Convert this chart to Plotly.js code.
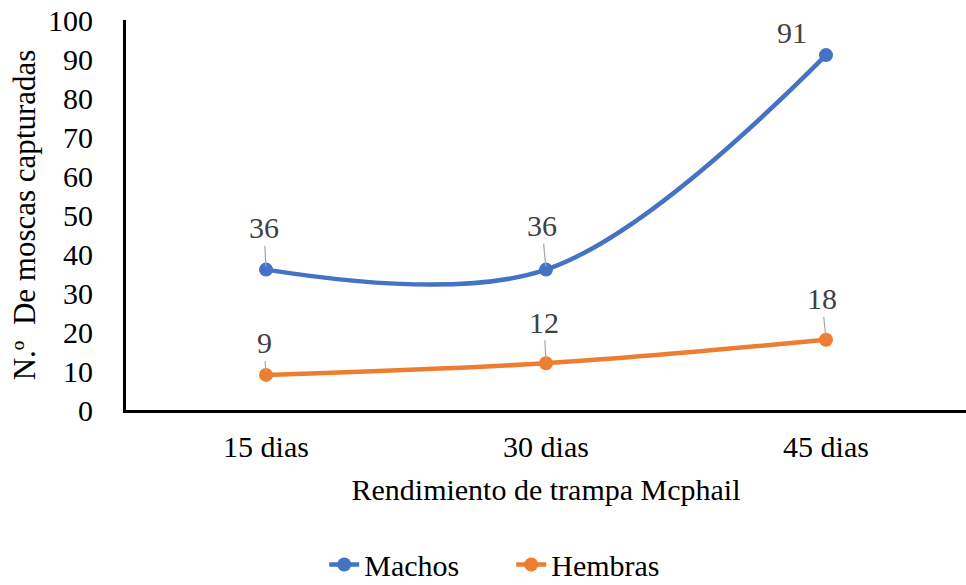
<!DOCTYPE html>
<html>
<head>
<meta charset="utf-8">
<script src="https://cdn.plot.ly/plotly-3.0.1.min.js"></script>
<style>
  html, body { margin: 0; padding: 0; background: #fff; }
  #chart { width: 966px; height: 585px; }
</style>
</head>
<body>
<div id="chart"></div>
<script>
// Trap catches per collection interval
const categories = ['15 dias', '30 dias', '45 dias'];
const machos = [36, 36, 91];
const hembras = [9, 12, 18];
const yTicks = [0, 10, 20, 30, 40, 50, 60, 70, 80, 90, 100];

// Label offsets (px) from each marker: [dx, dy, draw leader line]
const machosLabelOffset = [[-2, -42, true], [-4, -44, true], [-34, -23, false]];
const hembrasLabelOffset = [[-2, -32, true], [-2, -41, true], [-4, -41, true]];

const FONT = 'Liberation Serif, Times New Roman, serif';
const SIZE = 30;
const BLUE = '#4472C4';
const ORANGE = '#ED7D31';

function series(name, values, color) {
  return {
    type: 'scatter',
    mode: 'lines+markers',
    name: name,
    x: categories,
    y: values,
    line: { color: color, width: 4.5, shape: 'spline', smoothing: 1 },
    marker: { color: color, size: 14 },
    hoverinfo: 'x+y'
  };
}

// Value labels with short gray leader lines pointing at each marker
function labels(values, offsets) {
  return values.map((v, i) => {
    const [dx, dy, leader] = offsets[i];
    const base = {
      x: categories[i],
      y: v,
      text: String(v),
      font: { family: FONT, size: SIZE, color: '#404040' }
    };
    if (leader) {
      return Object.assign(base, {
        showarrow: true, arrowhead: 0, arrowwidth: 1.2,
        arrowcolor: '#A6A6A6', standoff: 3, ax: dx, ay: dy
      });
    }
    return Object.assign(base, { showarrow: false, xshift: dx, yshift: -dy });
  });
}

const layout = {
  width: 966,
  height: 585,
  margin: { l: 126, r: 0, t: 20, b: 175, autoexpand: false },
  paper_bgcolor: '#fff',
  plot_bgcolor: '#fff',
  font: { family: FONT, size: SIZE, color: '#000' },
  showlegend: true,
  legend: {
    orientation: 'h',
    x: 0.236, xanchor: 'left',
    y: -0.396, yanchor: 'middle',
    font: { family: FONT, size: SIZE, color: '#000' },
    entrywidth: 142,
    entrywidthmode: 'pixels',
    traceorder: 'normal'
  },
  xaxis: {
    type: 'category',
    range: [-0.5, 2.5],
    showline: true,
    linecolor: '#000',
    linewidth: 3,
    showgrid: false,
    zeroline: false,
    ticks: '',
    ticklabelstandoff: 8,
    tickfont: { family: FONT, size: SIZE, color: '#000' },
    automargin: false,
    title: {
      text: 'Rendimiento de trampa Mcphail',
      font: { family: FONT, size: SIZE, color: '#000' },
      standoff: 17
    }
  },
  yaxis: {
    range: [0, 100],
    tickvals: yTicks,
    showline: true,
    linecolor: '#000',
    linewidth: 3,
    showgrid: false,
    zeroline: false,
    ticks: '',
    ticklabelstandoff: 24,
    tickfont: { family: FONT, size: SIZE, color: '#000' },
    automargin: false,
    title: {
      text: 'N.º  De moscas capturadas',
      font: { family: FONT, size: 31, color: '#000' },
      standoff: 4
    }
  },
  annotations: labels(machos, machosLabelOffset).concat(labels(hembras, hembrasLabelOffset))
};

Plotly.newPlot('chart', [series('Machos', machos, BLUE), series('Hembras', hembras, ORANGE)], layout, { displayModeBar: false, staticPlot: true });
</script>
</body>
</html>
